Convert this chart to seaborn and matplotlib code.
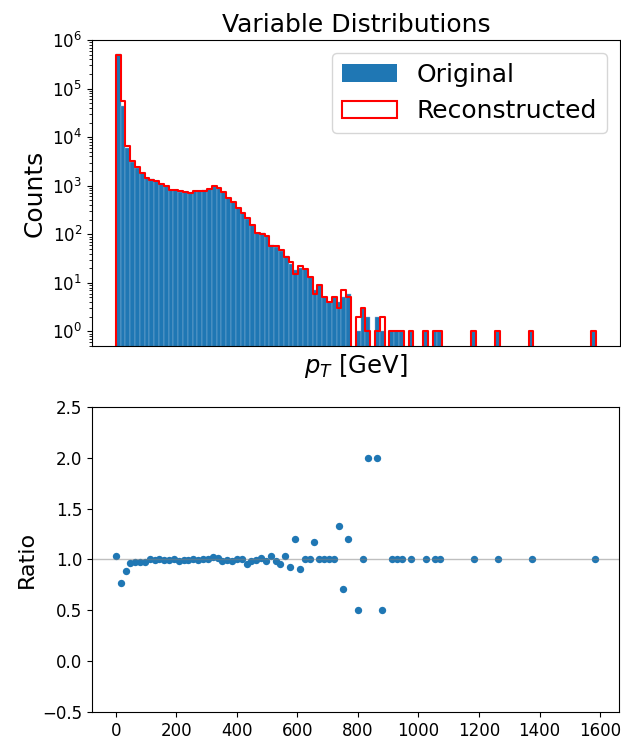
import numpy as np
import matplotlib
matplotlib.use("Agg")
import matplotlib.pyplot as plt
from matplotlib.patches import Patch
import seaborn as sns

# =========================
# DATA
# =========================
bin_width = 16
n_bins = 100

original = [
    515000, 43000, 5900, 3100, 2330, 1800, 1420, 1350, 1230, 1090,
    975, 830, 810, 760, 745, 705, 770, 775, 800, 865,
    1005, 890, 740, 560, 465, 355, 270, 205, 154, 107,
    104, 91, 60, 56, 45, 35, 25, 18, 20, 19,
    13, 7, 9, 5, 4, 5, 4, 5, 6, 0,
    1, 3, 2, 0, 2, 1, 0, 1, 1, 1,
    0, 1, 0, 0, 1, 0, 1, 1, 0, 0,
    0, 0, 0, 0, 1, 0, 0, 0, 0, 1,
    0, 0, 0, 0, 0, 0, 1, 0, 0, 0,
    0, 0, 0, 0, 0, 0, 0, 0, 0, 1,
]

reconstructed = [
    500000, 56000, 6650, 3200, 2385, 1840, 1455, 1340, 1240, 1090,
    985, 835, 808, 768, 750, 712, 765, 780, 795, 860,
    985, 880, 752, 565, 470, 352, 268, 214, 156, 108,
    103, 92, 58, 57, 47, 34, 27, 15, 22, 19,
    13, 6, 9, 5, 4, 5, 3, 7, 5, 0,
    2, 3, 1, 0, 1, 2, 0, 1, 1, 1,
    0, 1, 0, 0, 1, 0, 1, 1, 0, 0,
    0, 0, 0, 0, 1, 0, 0, 0, 0, 1,
    0, 0, 0, 0, 0, 0, 1, 0, 0, 0,
    0, 0, 0, 0, 0, 0, 0, 0, 0, 1,
]

ratio_yticks = [-0.5, 0.0, 0.5, 1.0, 1.5, 2.0, 2.5]

# =========================
# PREP
# =========================
orig = np.array(original, dtype=float)
reco = np.array(reconstructed, dtype=float)
edges = np.arange(n_bins + 1) * bin_width
centers = edges[:-1] + bin_width / 2

# pad one empty bin each side so the step outline closes down to the axis
edges_pad = np.arange(-1, n_bins + 2) * bin_width
centers_pad = edges_pad[:-1] + bin_width / 2
reco_pad = np.concatenate([[0], reco, [0]])

# ratio = original / reconstructed, only where both are filled
mask = (orig > 0) & (reco > 0)
ratio_x = edges[:-1][mask]
ratio_y = orig[mask] / reco[mask]

# =========================
# PLOT
# =========================
fig = plt.figure(figsize=(6.21, 7.41), dpi=100)
ax1 = fig.add_axes([0.148, 0.533, 0.850, 0.413])
ax2 = fig.add_axes([0.148, 0.039, 0.849, 0.412])

ax1.set_yscale("log")
sns.histplot(x=centers, weights=orig, bins=list(edges), ax=ax1, color="#1f77b4",
             alpha=1, edgecolor="#8fb8da", linewidth=0.3)
sns.histplot(x=centers_pad, weights=reco_pad, bins=list(edges_pad), ax=ax1,
             element="step", fill=False, color="red", linewidth=1.5)
ax1.set_xlim(-80, 1680)
ax1.set_ylim(0.5, 1e6)
ax1.set_xticks([])
ax1.set_xlabel("$p_T$ [GeV]", fontsize=17.5)
ax1.set_ylabel("Counts", fontsize=18)
ax1.set_title("Variable Distributions", fontsize=18)
ax1.tick_params(axis="y", labelsize=12)

handles = [Patch(facecolor="#1f77b4", label="Original"),
           Patch(facecolor="none", edgecolor="red", linewidth=1.5, label="Reconstructed")]
ax1.legend(handles=handles, loc="upper right", fontsize=18, handlelength=2.2)

ax2.axhline(1.0, color="gray", alpha=0.5, linewidth=1)
sns.scatterplot(x=ratio_x, y=ratio_y, ax=ax2, color="#1f77b4", s=28, linewidth=0)
ax2.set_xlim(-79, 1663)
ax2.set_ylim(-0.5, 2.5)
ax2.set_yticks(ratio_yticks)
ax2.set_ylabel("Ratio", fontsize=16)
ax2.tick_params(labelsize=12)

fig.savefig("out.png", dpi=100)
